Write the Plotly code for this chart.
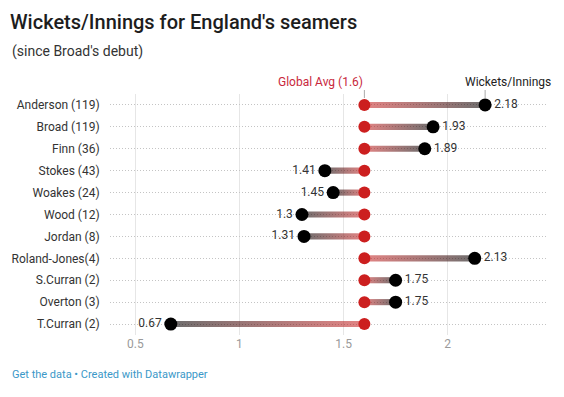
import plotly.graph_objects as go

players = ["Anderson (119)", "Broad (119)", "Finn (36)", "Stokes (43)", "Woakes (24)",
           "Wood (12)", "Jordan (8)", "Roland-Jones(4)", "S.Curran (2)", "Overton (3)", "T.Curran (2)"]
wickets_per_innings = [2.18, 1.93, 1.89, 1.41, 1.45, 1.3, 1.31, 2.13, 1.75, 1.75, 0.67]
global_avg = 1.6
x_ticks = [0.5, 1, 1.5, 2]
x_tick_labels = ["0.5", "1", "1.5", "2"]

RED = "#cc1f1f"
FONT = "Roboto"
OFF = 8  # page body margin
W, H = 564 - OFF, 397 - OFF
L, R, T, B = 110 - OFF, 16, 94 - OFF, 62
half = 0.14  # bar half thickness in category units

fig = go.Figure()

# gradient bars
for i, v in enumerate(wickets_per_innings):
    lo, hi = min(v, global_avg), max(v, global_avg)
    if v >= global_avg:
        cs = [[0, "rgba(204,31,31,0.55)"], [1, "rgba(0,0,0,0.57)"]]
    else:
        cs = [[0, "rgba(0,0,0,0.57)"], [1, "rgba(204,31,31,0.55)"]]
    fig.add_trace(go.Scatter(
        x=[lo, hi, hi, lo, lo], y=[i - half, i - half, i + half, i + half, i - half],
        mode="lines", line=dict(width=0), fill="toself",
        fillgradient=dict(type="horizontal", colorscale=cs),
        hoverinfo="skip", showlegend=False))

# global avg dots
fig.add_trace(go.Scatter(
    x=[global_avg] * len(players), y=list(range(len(players))), mode="markers",
    marker=dict(color=RED, size=12), showlegend=False, hoverinfo="skip"))

# value dots + labels
right_idx = [i for i, v in enumerate(wickets_per_innings) if v >= global_avg]
left_idx = [i for i, v in enumerate(wickets_per_innings) if v < global_avg]
for idx, pos in ((right_idx, "middle right"), (left_idx, "middle left")):
    fig.add_trace(go.Scatter(
        x=[wickets_per_innings[i] for i in idx], y=idx, mode="markers+text",
        text=[f"{wickets_per_innings[i]:g}" for i in idx], textposition=pos,
        textfont=dict(family=FONT, size=12, color="#333"),
        marker=dict(color="#000", size=13), showlegend=False, hoverinfo="skip"))

ph = H - T - B
pw = W - L - R

fig.update_layout(
    width=W, height=H, margin=dict(l=L, r=R, t=T, b=B),
    paper_bgcolor="white", plot_bgcolor="white",
    font=dict(family=FONT, size=12, color="#333"),
    title=dict(text="Wickets/Innings for England's seamers", x=(10 - OFF) / W, xanchor="left",
               y=1 - (22 - OFF) / H, yanchor="middle", yref="container",
               font=dict(family=FONT, size=20, color="#1d1d1d", weight=500)),
    xaxis=dict(range=[0.378, 2.482], tickvals=x_ticks, ticktext=x_tick_labels,
               showgrid=True, gridcolor="#e6e6e6", gridwidth=1, zeroline=False, automargin=False,
               showline=False, ticks="", tickfont=dict(family=FONT, size=12, color="#9a9a9a")),
    yaxis=dict(tickvals=list(range(len(players))), ticktext=players, automargin=False,
               range=[len(players) - 0.5, -0.5], showgrid=True, gridcolor="#c4c4c4",
               griddash="1px,2px", gridwidth=1, zeroline=False, showline=False,
               ticks="outside", ticklen=7, tickcolor="rgba(0,0,0,0)",
               tickfont=dict(family=FONT, size=12, color="#333")),
    annotations=[
        dict(text="(since Broad's debut)", xref="paper", yref="paper",
             x=(10 - 110) / pw, y=(335 - 52) / ph, xanchor="left", yanchor="middle",
             showarrow=False, font=dict(family=FONT, size=14, color="#333")),
        dict(text="Get the data • Created with Datawrapper", xref="paper", yref="paper",
             x=(10 - 110) / pw, y=(335 - 374) / ph, xanchor="left", yanchor="middle",
             showarrow=False, font=dict(family=FONT, size=11, color="#3b98c8")),
        dict(text=f"Global Avg ({global_avg:g})", xref="x", yref="paper", x=global_avg,
             y=1, yshift=3, xanchor="right", yanchor="bottom", xshift=1,
             showarrow=False, font=dict(family=FONT, size=12, color="#c8283c")),
        dict(text="Wickets/Innings", xref="x", yref="paper", x=wickets_per_innings[0],
             y=1, yshift=3, xanchor="center", yanchor="bottom", xshift=23,
             showarrow=False, font=dict(family=FONT, size=12, color="#222")),
    ],
    shapes=[
        dict(type="line", xref="x", yref="paper", x0=global_avg, x1=global_avg,
             y0=1 - 4 / ph, y1=1 + 4 / ph, line=dict(color="#aaa", width=1), layer="below"),
        dict(type="line", xref="x", yref="paper", x0=wickets_per_innings[0], x1=wickets_per_innings[0],
             y0=1 - 4 / ph, y1=1 + 4 / ph, line=dict(color="#aaa", width=1), layer="below"),
    ],
)

fig.write_html("out.html")
